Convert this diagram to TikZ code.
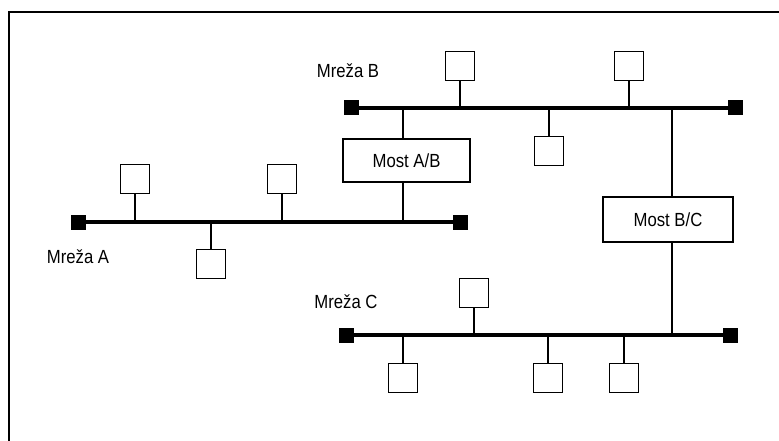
\documentclass[tikz,border=0pt]{standalone}
\usepackage{fontspec}
\setmainfont{Liberation Sans}
\newfontfamily\condfont[FakeStretch=0.88]{Liberation Sans}
\begin{document}
\begin{tikzpicture}[x=1pt,y=-1pt,
  bus/.style={line width=4.5pt},
  term/.style={fill=black,draw=none,minimum size=15pt,inner sep=0pt},
  host/.style={draw,line width=1.9pt,fill=white,minimum width=29pt,minimum height=29pt,inner sep=0pt},
  bridge/.style={draw,line width=1.9pt,fill=white,inner sep=0pt,font=\condfont\fontsize{19}{21}\selectfont},
  stem/.style={line width=1.3pt},
  blink/.style={line width=2.4pt},
  lbl/.style={font=\condfont\fontsize{19}{21}\selectfont,inner sep=0pt}]
\useasboundingbox (0,0) rectangle (779,441);
% frame
\draw[line width=2pt] (9,441) -- (9,12) -- (779,12);
% bus end terminals
\node[term] (aL) at (78,222) {};
\node[term] (aR) at (460,222) {};
\node[term] (bL) at (351,108) {};
\node[term] (bR) at (735,108) {};
\node[term] (cL) at (346,335) {};
\node[term] (cR) at (730,335) {};
\draw[bus] (aL.center) -- (aR.center);
\draw[bus] (bL.center) -- (bR.center);
\draw[bus] (cL.center) -- (cR.center);
% labels
\node[lbl] (la) at (78,257) {Mreža A};
\node[lbl] (lb) at (348,71) {Mreža B};
\node[lbl] (lc) at (346,302) {Mreža C};
% hosts
\node[host] (a1) at (135,179) {};
\node[host] (a2) at (282,179) {};
\node[host] (a3) at (211,264) {};
\node[host] (b1) at (460,66) {};
\node[host] (b2) at (629,66) {};
\node[host] (b3) at (549,151) {};
\node[host] (c1) at (474,293) {};
\node[host] (c2) at (403,378) {};
\node[host] (c3) at (548,378) {};
\node[host] (c4) at (624,378) {};
\foreach \h in {a1,a2} \draw[stem] (\h.south) -- (\h.south |- aL.center);
\draw[stem] (a3.north) -- (a3.north |- aL.center);
\foreach \h in {b1,b2} \draw[stem] (\h.south) -- (\h.south |- bL.center);
\draw[stem] (b3.north) -- (b3.north |- bL.center);
\draw[stem] (c1.south) -- (c1.south |- cL.center);
\foreach \h in {c2,c3,c4} \draw[stem] (\h.north) -- (\h.north |- cL.center);
% bridges
\node[bridge,minimum width=127pt,minimum height=43pt] (ab) at (406.5,160.5) {Most A/B};
\node[bridge,minimum width=130pt,minimum height=45pt] (bc) at (668,219.5) {Most B/C};
\coordinate (abt) at ([xshift=-3.5pt]ab.north);
\coordinate (abb) at ([xshift=-3.5pt]ab.south);
\coordinate (bct) at ([xshift=4pt]bc.north);
\coordinate (bcb) at ([xshift=4pt]bc.south);
\draw[blink] (abt) -- (abt |- bL.center);
\draw[blink] (abb) -- (abb |- aL.center);
\draw[blink] (bct) -- (bct |- bL.center);
\draw[blink] (bcb) -- (bcb |- cL.center);
\end{tikzpicture}
\end{document}
